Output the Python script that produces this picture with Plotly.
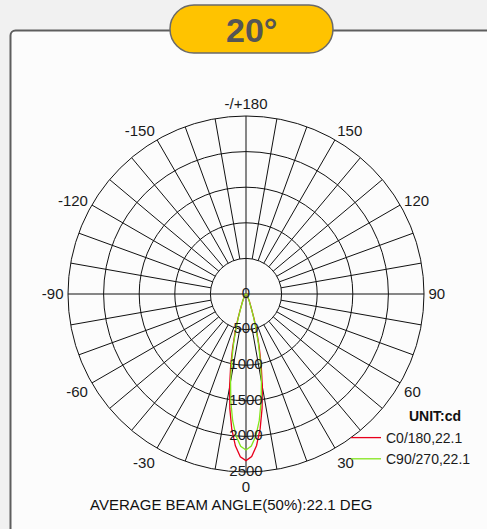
import plotly.graph_objects as go

# ---------------- data ----------------
ANGLES = [-90, -80, -70, -60, -50, -40, -30, -25, -20, -18, -16, -14, -12, -10, -8, -6, -4, -2,
          0, 2, 4, 6, 8, 10, 12, 14, 16, 18, 20, 25, 30, 40, 50, 60, 70, 80, 90]
C0_180 = [0, 1, 2, 5, 11, 24, 58, 115, 244, 374, 550, 772, 1036, 1330, 1630, 1910, 2138, 2288,
          2340, 2285, 2132, 1902, 1622, 1322, 1030, 768, 546, 370, 240, 112, 56, 23, 10, 5, 2, 1, 0]
C90_270 = [0, 1, 2, 5, 10, 22, 54, 108, 228, 350, 515, 725, 975, 1250, 1530, 1790, 2000, 2140,
           2190, 2138, 1996, 1785, 1524, 1246, 972, 722, 512, 348, 226, 106, 53, 22, 10, 5, 2, 1, 0]
SERIES_NAMES = ["C0/180,22.1", "C90/270,22.1"]

RADIAL_TICKS = [0, 500, 1000, 1500, 2000, 2500]
RADIAL_LABELS = ["0", "500", "1000", "1500", "2000", "2500"]
ANGLE_TICKS = [0, 30, 60, 90, 120, 150, 180, 210, 240, 270, 300, 330]
ANGLE_LABELS = ["0", "30", "60", "90", "120", "150", "-/+180", "-150", "-120", "-90", "-60", "-30"]

TITLE = "20°"
UNIT = "UNIT:cd"
FOOTER = "AVERAGE BEAM ANGLE(50%):22.1 DEG"

# ---------------- layout helpers ----------------
W, H = 487, 529
FONT = "Liberation Sans, Arial, sans-serif"
PAGE_BG = "#f1f1f1"


def fx(x):
    return x / W


def fy(y):
    return 1 - y / H


def path_from(points):
    out = []
    for cmd, *pts in points:
        if cmd == "Z":
            out.append("Z")
            continue
        coords = []
        for i in range(0, len(pts), 2):
            coords.append(f"{fx(pts[i]):.5f},{fy(pts[i+1]):.5f}")
        out.append(cmd + " ".join(coords))
    return " ".join(out)


k = 0.5523
# panel with rounded top-left corner
pr = 5
panel = path_from([
    ("M", 10.5, 540), ("L", 10.5, 30.5 + pr),
    ("C", 10.5, 30.5 + pr * (1 - k), 10.5 + pr * (1 - k), 30.5, 10.5 + pr, 30.5),
    ("L", 500, 30.5), ("L", 500, 540), ("Z",),
])
# pill badge
bx0, bx1, by0, by1 = 170, 333, 5, 53
rr = (by1 - by0) / 2
cy = (by0 + by1) / 2
badge = path_from([
    ("M", bx0 + rr, by0), ("L", bx1 - rr, by0),
    ("C", bx1 - rr + rr * k, by0, bx1, cy - rr * k, bx1, cy),
    ("C", bx1, cy + rr * k, bx1 - rr + rr * k, by1, bx1 - rr, by1),
    ("L", bx0 + rr, by1),
    ("C", bx0 + rr - rr * k, by1, bx0, cy + rr * k, bx0, cy),
    ("C", bx0, cy - rr * k, bx0 + rr - rr * k, by0, bx0 + rr, by0),
    ("Z",),
])

# ---------------- figure ----------------
fig = go.Figure()

# spokes every 10 degrees (main axes go through centre)
sp_t, sp_r = [], []
for a in range(0, 360, 10):
    r0 = RADIAL_TICKS[0] if a % 90 == 0 else RADIAL_TICKS[1]
    sp_t += [a, a, None]
    sp_r += [r0, RADIAL_TICKS[-1], None]
fig.add_trace(go.Scatterpolar(theta=sp_t, r=sp_r, mode="lines",
                              line=dict(color="#111111", width=1),
                              showlegend=False, hoverinfo="skip"))

fig.add_trace(go.Scatterpolar(theta=ANGLES, r=C0_180, mode="lines", name=SERIES_NAMES[0],
                              line=dict(color="#e8001c", width=1.3)))
fig.add_trace(go.Scatterpolar(theta=ANGLES, r=C90_270, mode="lines", name=SERIES_NAMES[1],
                              line=dict(color="#84e51c", width=1.3)))

fig.add_trace(go.Scatterpolar(theta=[0] * len(RADIAL_TICKS), r=RADIAL_TICKS, mode="text",
                              text=RADIAL_LABELS, textposition="middle center",
                              textfont=dict(family=FONT, size=15, color="#1a1a1a"),
                              showlegend=False, hoverinfo="skip", cliponaxis=False))

fig.update_layout(
    width=W, height=H,
    margin=dict(l=0, r=0, t=0, b=0),
    paper_bgcolor=PAGE_BG,
    font=dict(family=FONT, color="#1a1a1a", size=15),
    polar=dict(
        domain=dict(x=[fx(68), fx(424)], y=[fy(472), fy(116)]),
        bgcolor="rgba(0,0,0,0)",
        angularaxis=dict(rotation=270, direction="counterclockwise",
                         tickvals=ANGLE_TICKS, ticktext=ANGLE_LABELS,
                         showgrid=False, showline=True, linecolor="#111111", linewidth=1,
                         ticks="outside", ticklen=1, tickcolor="rgba(0,0,0,0)",
                         tickfont=dict(size=15, color="#1a1a1a")),
        radialaxis=dict(range=[0, 2500], tickvals=RADIAL_TICKS[1:-1],
                        showticklabels=False, showline=False, ticks="",
                        gridcolor="#111111", gridwidth=1),
    ),
    legend=dict(x=fx(346), y=fy(422), xanchor="left", yanchor="top",
                bgcolor="rgba(0,0,0,0)", font=dict(size=14, color="#1a1a1a"),
                itemwidth=30, tracegroupgap=0),
    shapes=[
        dict(type="path", xref="paper", yref="paper", path=panel, layer="below",
             fillcolor="#fcfcfc", line=dict(color="#5e5e5e", width=2)),
        dict(type="path", xref="paper", yref="paper", path=badge, layer="above",
             fillcolor="#ffc300", line=dict(color="#6a6a6a", width=1.5)),
    ],
    annotations=[
        dict(text=f"<b>{TITLE}</b>", x=fx(251.5), y=fy(30), xref="paper", yref="paper",
             showarrow=False, xanchor="center", yanchor="middle",
             font=dict(size=34, color="#555555")),
        dict(text=f"<b>{UNIT}</b>", x=fx(435), y=fy(416), xref="paper", yref="paper",
             showarrow=False, xanchor="center", yanchor="middle",
             font=dict(size=14, color="#111111")),
        dict(text=FOOTER, x=fx(231), y=fy(504), xref="paper", yref="paper",
             showarrow=False, xanchor="center", yanchor="middle",
             font=dict(size=15, color="#111111")),
    ],
)

fig.write_html(
    "out.html",
    config={"displayModeBar": False},
    post_script=f"document.body.style.margin='0';document.body.style.background='{PAGE_BG}';",
)
